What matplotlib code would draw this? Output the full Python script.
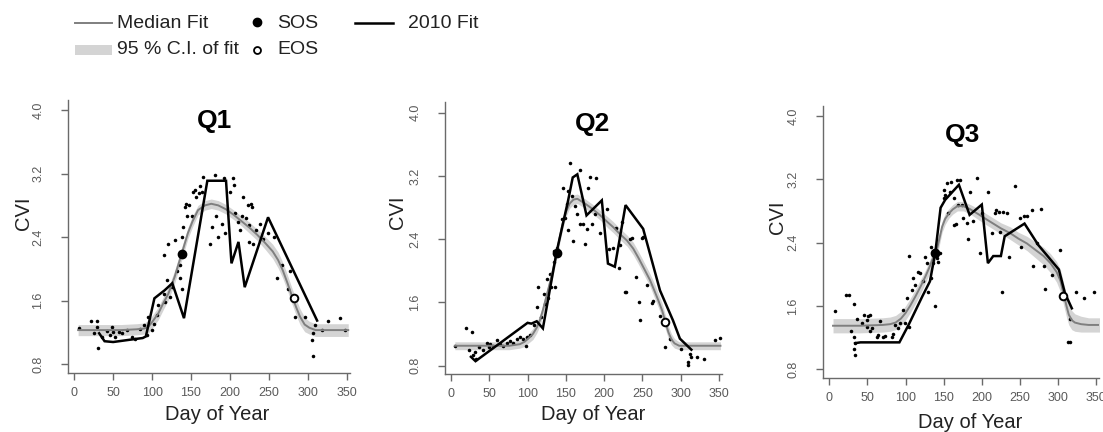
import matplotlib
matplotlib.use("Agg")
import matplotlib.pyplot as plt
from matplotlib import font_manager
from matplotlib.lines import Line2D
from matplotlib.patches import Rectangle
import numpy as np

# ---------------- data ----------------
panel_titles = ["Q1", "Q2", "Q3"]
x_ticks = [0, 50, 100, 150, 200, 250, 300, 350]
y_ticks = [0.8, 1.6, 2.4, 3.2, 4.0]
y_tick_labels = ["0.8", "1.6", "2.4", "3.2", "4.0"]
x_label = "Day of Year"
y_label = "CVI"
legend_labels = ["Median Fit", "95 % C.I. of fit", "SOS", "EOS", "2010 Fit"]

# median fit curves
med1_day = [5, 30, 60, 80, 90, 95, 100, 108, 115, 121, 129, 138, 146, 152, 159, 168, 176, 185, 195, 205, 215,
            225, 235, 245, 255, 262, 268, 274, 280, 285, 290, 296, 302, 310, 320, 335, 352]
med1_val = [1.23, 1.23, 1.23, 1.24, 1.25, 1.27, 1.33, 1.44, 1.58, 1.69, 1.90, 2.19, 2.45, 2.60, 2.74, 2.80, 2.82,
            2.80, 2.75, 2.68, 2.60, 2.52, 2.43, 2.33, 2.22, 2.11, 1.98, 1.82, 1.65, 1.52, 1.40, 1.30, 1.26, 1.23,
            1.23, 1.23, 1.23]
ci1_half = [0.07, 0.07, 0.07, 0.07, 0.07, 0.08, 0.08, 0.08, 0.08, 0.08, 0.08, 0.08, 0.07, 0.07, 0.06, 0.06, 0.06,
            0.06, 0.06, 0.06, 0.06, 0.07, 0.07, 0.08, 0.09, 0.10, 0.10, 0.10, 0.10, 0.10, 0.10, 0.09, 0.08, 0.08,
            0.08, 0.08, 0.08]

med2_day = [5, 40, 76, 90, 96, 102, 107, 112, 116, 120, 124.5, 129, 133, 138, 142, 146, 150, 155, 160, 165, 175,
            185, 195, 205, 212, 220, 230, 238, 245, 252, 260, 266, 271, 276, 280, 284, 288, 292, 298, 310, 330, 352]
med2_val = [1.05, 1.05, 1.05, 1.07, 1.10, 1.15, 1.20, 1.28, 1.37, 1.50, 1.67, 1.84, 2.00, 2.22, 2.42, 2.60, 2.74,
            2.85, 2.90, 2.91, 2.85, 2.78, 2.70, 2.61, 2.55, 2.47, 2.38, 2.28, 2.16, 2.03, 1.88, 1.74, 1.62, 1.49,
            1.35, 1.22, 1.13, 1.08, 1.05, 1.05, 1.05, 1.05]
ci2_half = [0.05, 0.05, 0.05, 0.05, 0.06, 0.06, 0.07, 0.07, 0.07, 0.07, 0.07, 0.07, 0.07, 0.07, 0.07, 0.07, 0.06,
            0.06, 0.06, 0.06, 0.06, 0.06, 0.06, 0.07, 0.07, 0.07, 0.07, 0.08, 0.08, 0.08, 0.08, 0.09, 0.09, 0.09,
            0.09, 0.08, 0.07, 0.06, 0.05, 0.05, 0.05, 0.05]

med3_day = [5, 40, 70, 80, 87, 94, 100, 106, 113, 120, 126, 131, 135, 140, 144, 148, 152, 157, 162, 168, 176,
            185, 197, 205, 215, 225, 237, 248, 259, 270, 281, 290, 298, 303, 308, 311, 314, 318, 322, 330, 340, 355]
med3_val = [1.35, 1.35, 1.36, 1.37, 1.39, 1.44, 1.51, 1.60, 1.72, 1.85, 1.97, 2.08, 2.18, 2.27, 2.43, 2.60, 2.70,
            2.77, 2.82, 2.86, 2.86, 2.82, 2.75, 2.70, 2.64, 2.58, 2.52, 2.45, 2.39, 2.31, 2.23, 2.14, 2.03, 1.92,
            1.72, 1.60, 1.49, 1.42, 1.39, 1.37, 1.36, 1.36]
ci3_half = [0.09, 0.09, 0.09, 0.09, 0.09, 0.09, 0.09, 0.09, 0.09, 0.09, 0.08, 0.08, 0.08, 0.08, 0.08, 0.07, 0.07,
            0.06, 0.06, 0.06, 0.06, 0.06, 0.07, 0.07, 0.07, 0.07, 0.08, 0.08, 0.09, 0.10, 0.11, 0.12, 0.13, 0.14,
            0.14, 0.14, 0.13, 0.12, 0.11, 0.10, 0.09, 0.09]

# 2010 fits
fit1_day = [32, 39, 50, 65, 80, 88, 92, 103, 116, 126, 141, 171, 195, 202, 211, 219, 249, 312]
fit1_val = [1.19, 1.09, 1.08, 1.10, 1.12, 1.13, 1.15, 1.63, 1.73, 1.82, 1.38, 3.11, 3.11, 2.07, 2.34, 1.77, 2.65, 1.35]

fit2_day = [26, 32, 100, 105, 112, 120, 138, 153, 159, 165, 177, 197, 205, 214, 228, 251, 273, 290, 299, 314]
fit2_val = [0.91, 0.855, 1.34, 1.33, 1.36, 1.27, 2.24, 2.89, 3.18, 3.22, 2.70, 2.89, 2.09, 2.05, 2.83, 2.53, 1.75,
            1.37, 1.14, 1.00]

fit3_day = [34, 41, 92, 104, 122, 132, 139, 146, 152, 170, 184, 200, 208, 215, 225, 230, 256, 274, 301, 309, 318]
fit3_val = [1.13, 1.14, 1.14, 1.36, 1.72, 1.91, 2.27, 2.84, 2.94, 3.13, 2.75, 2.88, 2.14, 2.23, 2.23, 2.48, 2.64,
            2.37, 2.06, 1.76, 1.57]

# SOS / EOS markers
sos_day = [138, 138, 139]
sos_val = [2.19, 2.22, 2.27]
eos_day = [282, 279.5, 307]
eos_val = [1.64, 1.35, 1.73]

# observations
pts1_day = [6, 21, 29, 29, 25, 31, 36, 42, 46, 50, 48, 53, 57, 61, 68, 74, 78, 85, 89, 93,
            95, 100, 103, 106, 108, 115, 115, 117, 119, 121, 123, 125, 130, 132, 136, 136, 138, 138, 140, 142,
            144, 145, 147, 151, 153, 155, 157, 160, 164, 162, 166, 175, 177, 181, 182, 185, 190, 192, 194, 200,
            204, 205, 207, 211, 213, 215, 217, 221, 223, 225, 225, 227, 229, 230, 234, 239, 243, 249, 256, 260,
            267, 274, 277, 284, 297, 305, 307, 307, 309, 318, 326, 341, 348]
pts1_val = [1.26, 1.34, 1.34, 1.27, 1.19, 1.01, 1.14, 1.22, 1.17, 1.21, 1.27, 1.14, 1.21, 1.19, 1.23, 1.14, 1.12,
            1.25, 1.29, 1.17, 1.40, 1.23, 1.31, 1.42, 1.54, 1.68, 2.17, 1.58, 1.86, 2.32, 1.65, 1.77, 2.36, 1.98,
            2.05, 1.88, 2.40, 1.75, 2.53, 2.78, 2.82, 2.66, 2.80, 2.66, 2.97, 2.99, 2.91, 2.95, 2.97, 3.05, 3.16,
            2.32, 2.53, 3.18, 2.66, 2.40, 2.57, 3.15, 2.45, 2.97, 3.15, 3.06, 2.71, 2.59, 2.49, 2.66, 2.91, 2.64,
            2.80, 2.34, 2.55, 2.82, 2.78, 2.32, 2.49, 2.57, 2.38, 2.45, 2.40, 1.88, 2.05, 1.75, 1.98, 1.40, 1.40,
            1.11, 1.19, 0.91, 1.29, 1.23, 1.35, 1.38, 1.23]

pts2_day = [5, 20, 27, 23, 29, 31, 33, 36, 42, 47, 49, 51, 55, 60, 64, 68, 73, 77, 81, 86,
            90, 94, 98, 99, 103, 108, 112, 114, 118, 121, 123, 125, 127, 129, 131, 134, 135, 136, 138, 145,
            146, 149, 151, 153, 153, 155, 158, 160, 162, 164, 168, 168, 173, 175, 177, 179, 181, 184, 188, 190,
            195, 204, 207, 212, 216, 219, 221, 223, 227, 229, 234, 236, 242, 245, 247, 249, 251, 256, 262, 264,
            273, 280, 286, 301, 312, 310, 310, 314, 321, 331, 345, 351]
pts2_val = [1.05, 1.28, 1.23, 0.99, 0.93, 0.97, 0.88, 1.03, 0.99, 1.09, 1.03, 1.07, 1.05, 1.12, 1.07, 1.05, 1.09,
            1.11, 1.09, 1.14, 1.16, 1.14, 1.05, 1.16, 1.18, 1.31, 1.54, 1.79, 1.41, 1.71, 1.58, 1.89, 1.66, 1.96,
            1.79, 2.11, 2.25, 1.79, 2.29, 2.65, 3.05, 2.67, 2.84, 3.01, 2.51, 3.36, 2.95, 2.38, 2.82, 2.72, 3.27,
            2.59, 2.59, 2.34, 2.53, 3.05, 3.18, 2.59, 2.72, 3.17, 2.48, 2.78, 2.27, 2.29, 2.54, 2.04, 2.32, 2.61,
            1.73, 1.73, 2.40, 2.42, 1.92, 1.60, 1.38, 2.42, 2.43, 1.82, 1.59, 1.62, 1.43, 1.03, 1.14, 1.01, 0.95,
            0.84, 0.81, 0.91, 0.91, 0.88, 1.12, 1.15]

pts3_day = [8, 22, 26, 32, 29, 32, 34, 33, 34, 36, 43, 45, 49, 51, 53, 49, 53, 56, 62, 64,
            67, 71, 73, 82, 84, 86, 90, 93, 97, 99, 102, 104, 105, 108, 110, 112, 117, 119, 123, 125,
            128, 130, 134, 134, 136, 139, 141, 143, 145, 150, 150, 152, 154, 156, 158, 160, 163, 164, 166, 168,
            169, 171, 174, 176, 180, 182, 184, 189, 194, 197, 200, 208, 213, 217, 219, 222, 224, 226, 228, 233,
            236, 243, 250, 252, 255, 259, 266, 267, 272, 278, 281, 283, 292, 302, 313, 315, 316, 324, 334, 347,
            357]
pts3_val = [1.53, 1.74, 1.74, 1.63, 1.28, 1.21, 1.13, 1.05, 0.98, 1.44, 1.38, 1.49, 1.42, 1.47, 1.49, 1.34, 1.28,
            1.32, 1.21, 1.23, 1.41, 1.21, 1.22, 1.21, 1.25, 1.36, 1.32, 1.38, 1.55, 1.38, 1.70, 1.34, 2.23, 1.80,
            1.95, 1.87, 2.03, 2.01, 1.91, 2.22, 2.14, 1.78, 2.35, 1.95, 2.14, 1.60, 2.20, 2.16, 2.27, 2.96, 3.07,
            3.00, 3.15, 2.77, 3.04, 3.17, 2.96, 2.62, 2.64, 3.19, 2.88, 3.19, 2.88, 2.71, 2.65, 2.45, 3.04, 2.67,
            3.21, 2.27, 2.77, 3.04, 2.52, 2.77, 2.81, 2.79, 2.54, 1.78, 2.79, 2.77, 2.22, 3.12, 2.71, 2.35, 2.73,
            2.74, 2.81, 2.10, 2.39, 2.83, 2.10, 1.82, 1.99, 2.31, 1.15, 1.15, 1.43, 1.78, 1.70, 1.78, 1.43]

# ---------------- styling / layout ----------------
W, H = 1103, 432
fig = plt.figure(figsize=(W / 100, H / 100), dpi=100)
fig.patch.set_facecolor("white")

avail = {f.name for f in font_manager.fontManager.ttflist}
MAIN = ["Liberation Sans", "DejaVu Sans"]
if "Liberation Sans Narrow" in avail:
    TICKFONT = ["Liberation Sans Narrow", "Liberation Sans", "DejaVu Sans"]
    TICKSIZE = 9.5
else:
    TICKFONT = MAIN
    TICKSIZE = 9
plt.rcParams["font.family"] = MAIN

AX_COL = "#6a6a6a"
TICK_COL = "#5a5a5a"
MED_COL = "#7f7f7f"
BAND_COL = "#d4d4d4"


def fx(x):
    return x / W


def fy(y):
    return 1 - y / H


# axes boxes in pixels: left, top, right, bottom
boxes = [(68, 99.7, 349.8, 373.0), (444.9, 102.4, 722.0, 374.2), (823.1, 105.6, 1099.3, 378.0)]
title_pos = [(214, 121), (592, 124), (963, 135)]
ylab_pos = [(23, 213), (398, 212), (777, 217)]
xlab_pos = [(217, 415), (593, 415), (970, 423)]

meds = [(med1_day, med1_val, ci1_half), (med2_day, med2_val, ci2_half), (med3_day, med3_val, ci3_half)]
fits = [(fit1_day, fit1_val), (fit2_day, fit2_val), (fit3_day, fit3_val)]
pts = [(pts1_day, pts1_val), (pts2_day, pts2_val), (pts3_day, pts3_val)]

for i in range(3):
    l, t, r, b = boxes[i]
    ax = fig.add_axes([fx(l), fy(b), (r - l) / W, (b - t) / H])
    ax.set_xlim(-8, 354)
    ax.set_ylim(0.69, 4.13)
    for s in ["top", "right"]:
        ax.spines[s].set_visible(False)
    for s in ["left", "bottom"]:
        ax.spines[s].set_color(AX_COL)
        ax.spines[s].set_linewidth(1.0)
    ax.set_facecolor("none")

    d, v, h = meds[i]
    d = np.array(d); v = np.array(v); h = np.array(h)
    ax.fill_between(d, v - h, v + h, color=BAND_COL, lw=0, zorder=1)
    ax.scatter(pts[i][0], pts[i][1], s=6.5, color="black", linewidths=0, zorder=2)
    ax.plot(d, v, color=MED_COL, lw=1.4, zorder=3)
    ax.plot(fits[i][0], fits[i][1], color="black", lw=1.8, zorder=4, solid_joinstyle="miter")
    ax.scatter([sos_day[i]], [sos_val[i]], s=36, color="black", zorder=5)
    ax.scatter([eos_day[i]], [eos_val[i]], s=30, facecolor="white", edgecolor="black", linewidths=1.4, zorder=5)

    ax.set_xticks(x_ticks)
    ax.set_xticklabels([str(x) for x in x_ticks])
    ax.set_yticks(y_ticks)
    ax.set_yticklabels(y_tick_labels, rotation=90, va="center")
    ax.tick_params(axis="both", direction="out", length=5, width=1.0, color=AX_COL,
                   labelcolor=TICK_COL, labelsize=TICKSIZE)
    ax.tick_params(axis="x", pad=5)
    ax.tick_params(axis="y", pad=12)
    for lab in ax.get_xticklabels() + ax.get_yticklabels():
        lab.set_family(TICKFONT)

    fig.text(fx(title_pos[i][0]), fy(title_pos[i][1]), panel_titles[i], ha="center", va="center",
             fontsize=19, fontweight="bold", color="black")
    fig.text(fx(ylab_pos[i][0]), fy(ylab_pos[i][1]), y_label, ha="center", va="center",
             rotation=90, fontsize=14.5, color="#222222")
    fig.text(fx(xlab_pos[i][0]), fy(xlab_pos[i][1]), x_label, ha="center", va="center",
             fontsize=14.5, color="#222222")

# ---------------- legend ----------------
LEG_FS = 14
fig.add_artist(Line2D([fx(75), fx(112)], [fy(23), fy(23)], color=MED_COL, lw=1.4))
fig.text(fx(117), fy(23), legend_labels[0], ha="left", va="center", fontsize=LEG_FS, color="#222222")
fig.add_artist(Rectangle((fx(75), fy(55)), fx(112) - fx(75), (55 - 45) / H, color=BAND_COL, lw=0))
fig.text(fx(117), fy(50), legend_labels[1], ha="left", va="center", fontsize=LEG_FS, color="#222222")
fig.add_artist(Line2D([fx(257)], [fy(22)], marker="o", markersize=6, color="black", lw=0))
fig.text(fx(277), fy(23), legend_labels[2], ha="left", va="center", fontsize=LEG_FS, color="#222222")
fig.add_artist(Line2D([fx(257)], [fy(50)], marker="o", markersize=5, markerfacecolor="white",
                      markeredgecolor="black", markeredgewidth=1.3, lw=0))
fig.text(fx(277), fy(50), legend_labels[3], ha="left", va="center", fontsize=LEG_FS, color="#222222")
fig.add_artist(Line2D([fx(355), fx(393)], [fy(23), fy(23)], color="black", lw=1.8))
fig.text(fx(408), fy(23), legend_labels[4], ha="left", va="center", fontsize=LEG_FS, color="#222222")

fig.savefig("out.png", dpi=100, facecolor="white")
